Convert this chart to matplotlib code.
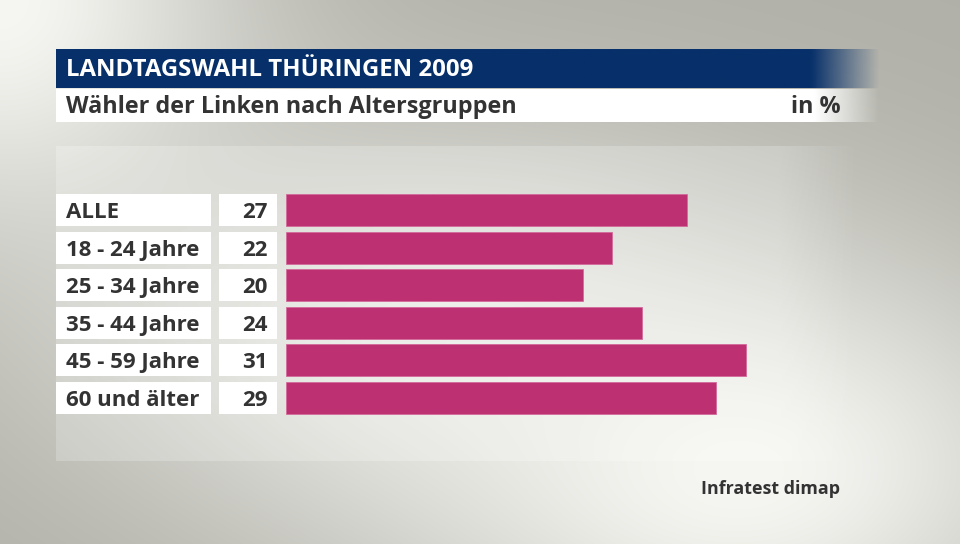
import numpy as np
import matplotlib
matplotlib.use("Agg")
import matplotlib.pyplot as plt
from matplotlib.colors import to_rgb

# ---- data ----
categories = ["ALLE", "18 - 24 Jahre", "25 - 34 Jahre", "35 - 44 Jahre", "45 - 59 Jahre", "60 und älter"]
values = [27, 22, 20, 24, 31, 29]
value_labels = ["27", "22", "20", "24", "31", "29"]
title = "LANDTAGSWAHL THÜRINGEN 2009"
subtitle = "Wähler der Linken nach Altersgruppen"
unit = "in %"
source = "Infratest dimap"

W, H = 960, 544
FONT = "Open Sans"
BAR_COLOR = "#bd3072"
TEXT_COLOR = "#333333"
NAVY = "#07306a"

fig = plt.figure(figsize=(W / 100, H / 100), dpi=100)

# ---- background (full-figure axes in pixel coords) ----
bg = fig.add_axes([0, 0, 1, 1])
bg.set_xlim(0, W)
bg.set_ylim(H, 0)
bg.axis("off")

yy, xx = np.mgrid[0:H, 0:W].astype(float)
def blob(cx, cy, sx, sy, w=1.0):
    return w * np.exp(-(((xx - cx) / sx) ** 2 + ((yy - cy) / sy) ** 2) / 2)
t = 1 - (1 - blob(740, 470, 240, 150)) * (1 - blob(0, 0, 170, 170)) * (1 - blob(420, 330, 260, 150, 0.75))
t = np.clip(t, 0, 1)
dark = np.array([176, 176, 168]) / 255
light = np.array([246, 246, 242]) / 255
img = dark[None, None, :] * (1 - t[..., None]) + light[None, None, :] * t[..., None]
bg.imshow(img, extent=[0, W, H, 0], aspect="auto", zorder=0)

# lighter panel behind the chart, fading to the right
panel = np.ones((2, 400, 4))
px = np.linspace(56, 880, 400)
panel[..., 3] = 0.22 * np.clip((860 - px) / 80, 0, 1)[None, :]
bg.imshow(panel, extent=[56, 880, 461, 146], aspect="auto", zorder=1)

# title bar with fade
def faded_bar(x0, x1, fade0, y0, y1, color, z):
    n = 500
    arr = np.zeros((2, n, 4))
    arr[..., :3] = to_rgb(color)
    xs = np.linspace(x0, x1, n)
    arr[..., 3] = np.clip((x1 - xs) / (x1 - fade0), 0, 1)[None, :]
    bg.imshow(arr, extent=[x0, x1, y1, y0], aspect="auto", zorder=z, interpolation="bilinear")

faded_bar(56, 880, 812, 49, 88, NAVY, 2)
faded_bar(56, 880, 815, 89, 122, "#ffffff", 2)
bg.set_xlim(0, W)
bg.set_ylim(H, 0)

bg.text(66, 70, title, color="white", fontsize=17.3, fontweight="bold", family=FONT,
        va="center", ha="left", zorder=5)
bg.text(66, 107, subtitle, color=TEXT_COLOR, fontsize=16.8, fontweight="bold", family=FONT,
        va="center", ha="left", zorder=5)
bg.text(841, 107, unit, color=TEXT_COLOR, fontsize=16.8, fontweight="bold", family=FONT,
        va="center", ha="right", zorder=5)
bg.text(840, 489, source, color=TEXT_COLOR, fontsize=12.9, fontweight="bold", family=FONT,
        va="center", ha="right", zorder=5)

# ---- bar area ----
n = len(categories)
pitch = 37.6
y_top = 210 - pitch / 2
y_bot = y_top + pitch * n
scale = 14.84  # pixels per percent
bar_left_px = 286
text_dy = 2.5 / pitch  # small downward nudge of row texts

def fig_rect(x0, x1, ya, yb):
    return [x0 / W, 1 - yb / H, (x1 - x0) / W, (yb - ya) / H]

pos = np.arange(n)

# label boxes
lab = fig.add_axes(fig_rect(56, 211, y_top, y_bot))
lab.set_xlim(0, 1)
lab.set_ylim(n - 0.5, -0.5)
lab.axis("off")
lab.barh(pos, [1] * n, height=32 / pitch, color="white", left=0)
for i, c in enumerate(categories):
    lab.text(10 / 155, i + text_dy, c, color=TEXT_COLOR, fontsize=16, fontweight="bold", family=FONT,
             va="center", ha="left")

# value boxes
val = fig.add_axes(fig_rect(219, 277, y_top, y_bot))
val.set_xlim(0, 1)
val.set_ylim(n - 0.5, -0.5)
val.axis("off")
val.barh(pos, [1] * n, height=32 / pitch, color="white", left=0)
for i, v in enumerate(value_labels):
    val.text(49 / 58, i + text_dy, v, color=TEXT_COLOR, fontsize=16, fontweight="bold", family=FONT,
             va="center", ha="right")

# bars
ax = fig.add_axes(fig_rect(bar_left_px, W, y_top, y_bot))
ax.set_xlim(0, (W - bar_left_px) / scale)
ax.set_ylim(n - 0.5, -0.5)
ax.axis("off")
ax.barh(pos, values, height=32 / pitch, color=BAR_COLOR, edgecolor="#d46a9a", linewidth=0.6)

fig.savefig("out.png", dpi=100)
